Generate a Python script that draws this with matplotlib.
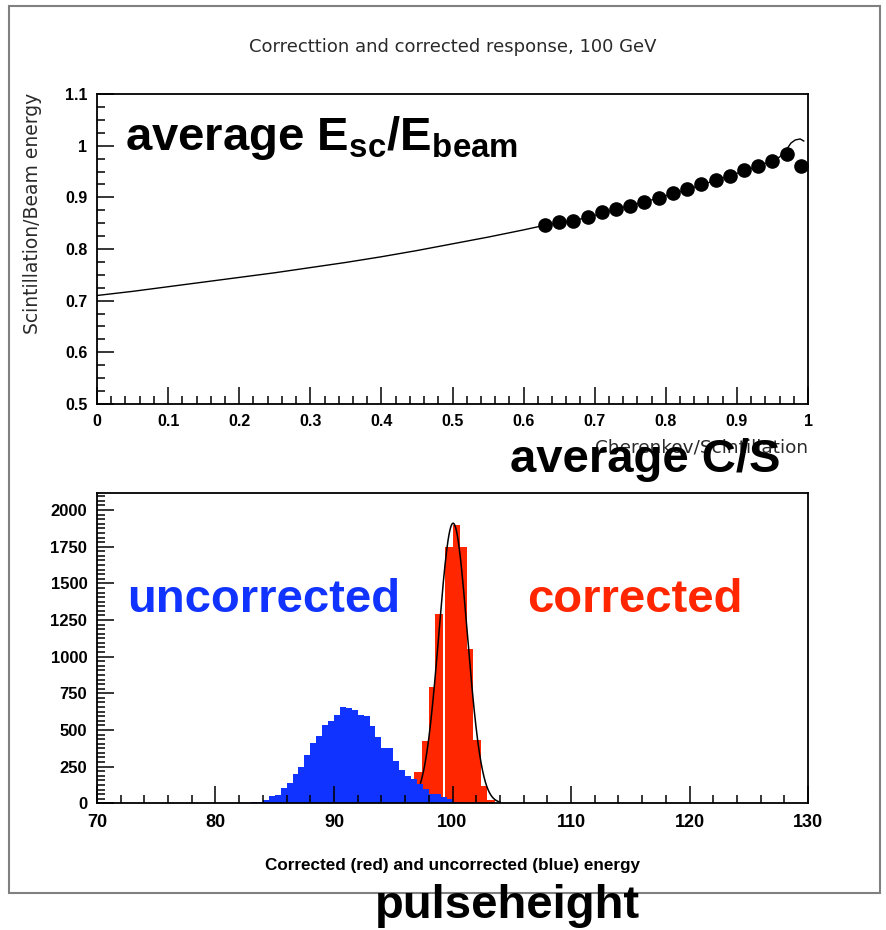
import numpy as np
import matplotlib
matplotlib.use('Agg')
import matplotlib.pyplot as plt
from matplotlib.patches import Rectangle
from matplotlib.ticker import MultipleLocator

plt.rcParams['mathtext.fontset'] = 'custom'
plt.rcParams['mathtext.rm'] = 'Liberation Sans:bold'
plt.rcParams['mathtext.bf'] = 'Liberation Sans:bold'

# ---- top panel: average scintillation response vs C/S ----
cs_ratio = [0.63, 0.65, 0.67, 0.69, 0.71, 0.73, 0.75, 0.77, 0.79, 0.81,
            0.83, 0.85, 0.87, 0.89, 0.91, 0.93, 0.95, 0.97, 0.99]
esc_ratio = [0.847, 0.852, 0.854, 0.861, 0.871, 0.878, 0.884, 0.891, 0.898, 0.908,
             0.916, 0.925, 0.933, 0.942, 0.952, 0.961, 0.971, 0.984, 0.960]

# correction curve
curve_x = [0.0, 0.05, 0.1, 0.15, 0.2, 0.25, 0.3, 0.35, 0.4, 0.45, 0.5, 0.55, 0.6,
           0.63, 0.65, 0.67, 0.69, 0.71, 0.73, 0.75, 0.77, 0.79, 0.81, 0.83, 0.85,
           0.87, 0.89, 0.91, 0.93, 0.95, 0.96, 0.97, 0.976, 0.982, 0.989, 0.994]
curve_y = [0.710, 0.718, 0.727, 0.736, 0.745, 0.754, 0.764, 0.774, 0.785, 0.797,
           0.810, 0.823, 0.837, 0.846, 0.851, 0.855, 0.861, 0.869, 0.877, 0.884,
           0.891, 0.899, 0.907, 0.915, 0.924, 0.933, 0.942, 0.951, 0.961, 0.971,
           0.978, 0.993, 1.005, 1.011, 1.013, 1.009]

# ---- bottom panel: energy histograms ----
blue_start, blue_width = 70.0, 0.5
blue_counts = [0, 0, 1, 1, 1, 1, 1, 1, 1, 1, 1, 1, 1, 1, 1, 1, 1, 1, 1, 1,
               2, 2, 3, 3, 5, 5, 7, 7,
               25, 50, 54, 102, 138, 202, 249, 331, 410, 462,
               535, 562, 600, 660, 653, 639, 600, 596, 530, 451,
               379, 374, 286, 224, 188, 163, 129, 95, 61, 61,
               40, 27, 12, 5]

red_edges = [96.77, 97.39, 97.98, 98.54, 99.16, 99.36, 100.0, 100.62,
             101.21, 101.77, 102.39, 102.95, 103.55, 104.1]
red_counts = [215, 424, 796, 1290, 0, 1750, 1900, 1750, 1052, 435, 116, 20, 5]

# gaussian fit to corrected response
fit_const, fit_mean, fit_sigma = 1910.0, 100.05, 1.2
fit_range = (97.3, 104.0)

BLUE = '#1033ff'
RED = '#ff2600'
W, H = 886, 930

fig = plt.figure(figsize=(W / 100, H / 100), dpi=100)
fig.patches.append(Rectangle((9 / W, 1 - 893 / H), 871 / W, 887 / H,
                             transform=fig.transFigure, fill=False,
                             edgecolor='#808080', lw=1.5))

def style_axes(ax):
    for s in ax.spines.values():
        s.set_linewidth(1.3)
    ax.tick_params(which='both', direction='in', top=False, right=False,
                   labelsize=11.5, pad=7, width=1.1)
    ax.tick_params(which='major', length=12)
    ax.tick_params(which='minor', length=6)
    for lab in ax.get_xticklabels() + ax.get_yticklabels():
        lab.set_fontfamily('Liberation Sans')
        lab.set_fontweight('bold')

ax1 = fig.add_axes([97 / W, 1 - 404 / H, 711 / W, 310 / H])
ax1.plot(curve_x, curve_y, color='black', lw=1.0)
ax1.plot(cs_ratio, esc_ratio, 'o', color='black', ms=9.5)
ax1.set_xlim(0, 1)
ax1.set_ylim(0.5, 1.1)
ax1.xaxis.set_major_locator(MultipleLocator(0.1))
ax1.xaxis.set_minor_locator(MultipleLocator(0.02))
ax1.yaxis.set_major_locator(MultipleLocator(0.1))
ax1.yaxis.set_minor_locator(MultipleLocator(0.025))
ax1.set_xticks(np.round(np.arange(0, 1.01, 0.1), 1))
ax1.set_xticklabels(['0', '0.1', '0.2', '0.3', '0.4', '0.5', '0.6', '0.7', '0.8', '0.9', '1'])
ax1.set_yticks(np.round(np.arange(0.5, 1.11, 0.1), 1))
ax1.set_yticklabels(['0.5', '0.6', '0.7', '0.8', '0.9', '1', '1.1'])
style_axes(ax1)

thin = dict(family='DejaVu Sans', color='#2a2a2a')
fig.text(453 / W, 1 - 47 / H, 'Correcttion and corrected response, 100 GeV',
         ha='center', va='center', fontsize=13, **thin)
fig.text(33 / W, 1 - 213 / H, 'Scintillation/Beam energy', rotation=90,
         ha='center', va='center', fontsize=13.5, **thin)
fig.text(808 / W, 1 - 447 / H, 'Cherenkov/Scintillation',
         ha='right', va='center', fontsize=13.3, **thin)

ax2 = fig.add_axes([97 / W, 1 - 803.3 / H, 711 / W, 310 / H])
blue_edges = blue_start + blue_width * np.arange(len(blue_counts) + 1)
ax2.stairs(red_counts, red_edges, fill=True, color=RED, lw=0)
ax2.stairs(blue_counts, blue_edges, fill=True, color=BLUE, lw=0)
fx = np.linspace(fit_range[0], fit_range[1], 300)
ax2.plot(fx, fit_const * np.exp(-0.5 * ((fx - fit_mean) / fit_sigma) ** 2),
         color='black', lw=1.1)
ax2.set_xlim(70, 130)
ax2.set_ylim(0, 2114)
ax2.xaxis.set_major_locator(MultipleLocator(10))
ax2.xaxis.set_minor_locator(MultipleLocator(2))
ax2.yaxis.set_major_locator(MultipleLocator(250))
ax2.yaxis.set_minor_locator(MultipleLocator(31.25))
style_axes(ax2)
ax2.tick_params(axis='x', labelsize=13, pad=8)
ax2.tick_params(axis='y', labelsize=12)
for lab in ax2.get_xticklabels() + ax2.get_yticklabels():
    lab.set_fontfamily('Liberation Sans')
    lab.set_fontweight('bold')
ax2.set_xlabel('Corrected (red) and uncorrected (blue) energy',
               fontfamily='Liberation Sans', fontweight='bold', fontsize=12.3,
               labelpad=19)

# large annotations
big = dict(family='Liberation Sans', fontweight='bold', fontsize=34)
fig.text(125 / W, 1 - 150 / H, r'average E$_{\mathrm{sc}}$/E$_{\mathrm{beam}}$',
         ha='left', va='baseline', color='black', **big)
fig.text(510 / W, 1 - 472 / H, 'average C/S', ha='left', va='baseline',
         color='black', **big)
fig.text(127 / W, 1 - 612 / H, 'uncorrected', ha='left', va='baseline',
         color=BLUE, **big)
fig.text(527 / W, 1 - 612 / H, 'corrected', ha='left', va='baseline',
         color=RED, **big)
fig.text(375 / W, 1 - 918 / H, 'pulseheight', ha='left', va='baseline',
         color='black', **big)

fig.savefig('out.png', dpi=100, facecolor='white')
